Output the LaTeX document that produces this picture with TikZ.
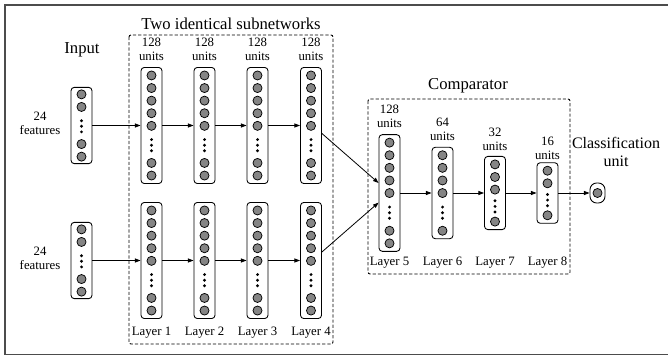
\documentclass[tikz,border=0pt]{standalone}
\usepackage{fontspec}
\setmainfont{Liberation Serif}
\usetikzlibrary{arrows.meta,positioning}
\newcommand{\smallfs}{\fontsize{9.6}{10.6}\selectfont}
\newcommand{\bigfs}{\fontsize{12.5}{13.5}\selectfont}
\newcommand{\clsfs}{\fontsize{12}{13.5}\selectfont}
\tikzset{
  layerbox/.style={draw, rounded corners=2.5pt, minimum width=15.75pt, inner sep=0pt, line width=0.65pt},
  unitc/.style={circle, draw, fill=black!48, minimum size=6.8pt, inner sep=0pt, line width=0.55pt},
  dotn/.style={circle, fill=black, minimum size=2.4pt, inner sep=0pt},
  clsbox/.style={draw, rounded corners=5pt, minimum width=11.25pt, minimum height=15pt, inner sep=0pt, line width=0.65pt},
  arr/.style={-{Triangle[length=4.2pt,width=3pt]}, line width=0.6pt},
  groupbox/.style={draw, dash pattern=on 2.4pt off 1.5pt, rounded corners=1.5pt, line width=0.7pt},
  frameline/.style={draw=black!70, line width=1.1pt},
  sml/.style={font=\smallfs, inner sep=0pt, align=center},
  big/.style={font=\bigfs, inner sep=0pt, align=center},
}
% name, x, ycenter, ntop, nbot, gap, offset
\newcommand{\nnlayer}[7]{%
  \pgfmathsetmacro\lyH{2*#7+(#4-1)*12.6+#6+(#5-1)*12.6}%
  \node[layerbox, minimum height=\lyH*0.75pt] (#1) at (#2,#3) {};%
  \pgfmathsetmacro\lyT{#3-\lyH/2+#7}%
  \foreach \k in {1,...,#4} {\node[unitc] (#1-t\k) at (#2, {\lyT+(\k-1)*12.6}) {};}%
  \pgfmathsetmacro\lyD{\lyT+(#4-1)*12.6+#6/2+0.8}%
  \foreach \k/\j in {-1/a,0/b,1/c} {\node[dotn] (#1-d\j) at (#2, {\lyD+\k*5.6}) {};}%
  \pgfmathsetmacro\lyB{\lyT+(#4-1)*12.6+#6}%
  \foreach \k in {1,...,#5} {\node[unitc] (#1-b\k) at (#2, {\lyB+(\k-1)*12.6}) {};}%
}
\begin{document}
\begin{tikzpicture}[x=0.75pt,y=-0.75pt]
\useasboundingbox (0,0) rectangle (668,356);
% outer frame (cut at right)
\draw[frameline] (668,5) -- (5,5) -- (5,354.5) -- (668,354.5);
% group boxes
\draw[groupbox] (129,35) rectangle (333,344);
\draw[groupbox] (368,99) rectangle (570,274);
% titles
\node[big, anchor=base] (tSub) at (231,29.5) {Two identical subnetworks};
\node[big, anchor=base] (tIn) at (82,53.3) {Input};
\node[big, anchor=base] (tCmp) at (468,89.3) {Comparator};
\node[big, font=\clsfs, anchor=south] (tCls) at (616,167.3) {Classification\\unit};
% input columns
\nnlayer{inA}{81.5}{125.5}{2}{2}{37.1}{7}
\nnlayer{inB}{81.5}{260.5}{2}{2}{37.1}{7}
\node[sml, anchor=south] (fA) at (40,135) {24\\features};
\node[sml, anchor=south] (fB) at (40,270) {24\\features};
% subnetwork layers
\foreach \n/\x in {1/151.5,2/204.5,3/257.5,4/311} {
  \nnlayer{L\n a}{\x}{125.5}{5}{2}{37.1}{8}
  \nnlayer{L\n b}{\x}{260.5}{5}{2}{37.1}{8}
  \node[sml, anchor=south] (uL\n) at (\x,61) {128\\units};
  \node[sml, anchor=base] (lL\n) at (\x,335.3) {Layer \n};
}
% comparator layers
\nnlayer{L5}{389.5}{193}{5}{2}{37.7}{8}
\nnlayer{L6}{442.5}{193}{4}{1}{37.7}{8}
\nnlayer{L7}{495}{193}{3}{1}{32}{8}
\nnlayer{L8}{547.5}{193}{2}{1}{32}{8}
\node[sml, anchor=south] (uL5) at (389.5,127.7) {128\\units};
\node[sml, anchor=south] (uL6) at (442.5,141) {64\\units};
\node[sml, anchor=south] (uL7) at (495,151) {32\\units};
\node[sml, anchor=south] (uL8) at (547.5,160) {16\\units};
\foreach \n/\x in {5/389.5,6/442.5,7/495,8/547.5} {
  \node[sml, anchor=base] (lL\n) at (\x,266) {Layer \n};
}
% classification unit
\node[clsbox] (cls) at (597.5,193) {};
\node[unitc] (clsU) at (cls.center) {};
% connectors
\draw[arr] (inA.east) -- (L1a.west);
\draw[arr] (inB.east) -- (L1b.west);
\foreach \a/\b in {1/2,2/3,3/4} {
  \draw[arr] (L\a a.east) -- (L\b a.west);
  \draw[arr] (L\a b.east) -- (L\b b.west);
}
\draw[arr] ([yshift=-6pt]L4a.east) -- ([yshift=7.5pt]L5.west);
\draw[arr] ([yshift=6.4pt]L4b.east) -- ([yshift=-7.2pt]L5.west);
\draw[arr] (L5.east) -- (L6.west);
\draw[arr] (L6.east) -- (L7.west);
\draw[arr] (L7.east) -- (L8.west);
\draw[arr] (L8.east) -- (cls.west);
\end{tikzpicture}
\end{document}
